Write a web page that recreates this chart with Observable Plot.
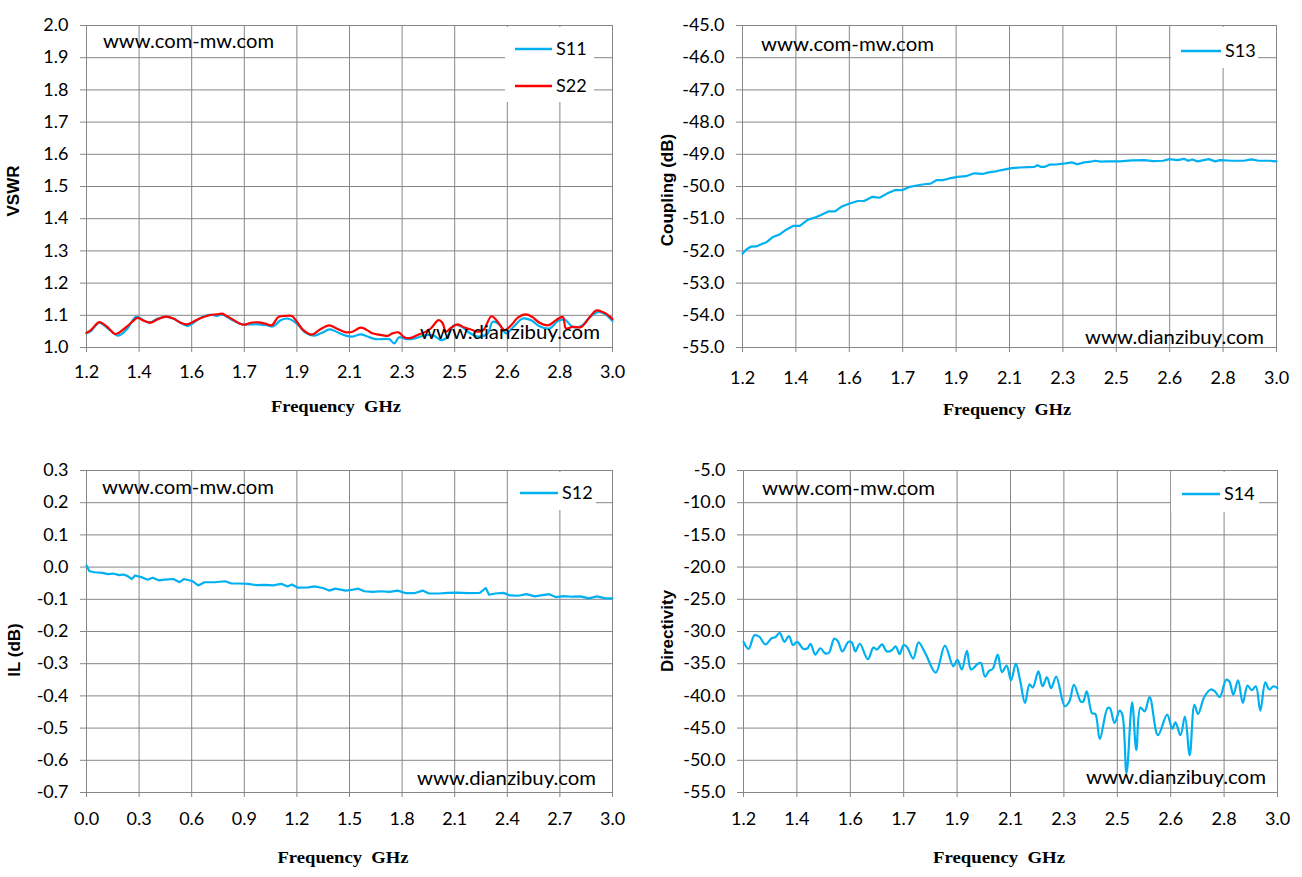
<!DOCTYPE html>
<html><head><meta charset="utf-8">
<script src="https://cdn.jsdelivr.net/npm/d3@7"></script>
<script src="https://cdn.jsdelivr.net/npm/@observablehq/plot@0.6"></script>
<style>
body{margin:0;background:#fff;}
#wrap{position:relative;width:1302px;height:877px;overflow:hidden;background:#fff;}
.panel{position:absolute;}
.panel svg{overflow:visible;max-width:none !important;}
</style></head><body><div id="wrap"></div>
<script>
// ---------- tick labels ----------
const freqTickLabels = ["1.2","1.4","1.6","1.7","1.9","2.1","2.3","2.5","2.6","2.8","3.0"];
const ilTickLabels = ["0.0","0.3","0.6","0.9","1.2","1.5","1.8","2.1","2.4","2.7","3.0"];
const vswrTicks = [1.0,1.1,1.2,1.3,1.4,1.5,1.6,1.7,1.8,1.9,2.0];
const couplingTicks = [-55,-54,-53,-52,-51,-50,-49,-48,-47,-46,-45];
const ilTicks = [-0.7,-0.6,-0.5,-0.4,-0.3,-0.2,-0.1,0.0,0.1,0.2,0.3];
const dirTicks = [-55,-50,-45,-40,-35,-30,-25,-20,-15,-10,-5];

// ---------- series [GHz, value] ----------
const s11 = [[1.200,1.044],[1.215,1.051],[1.243,1.077],[1.260,1.069],[1.277,1.056],[1.306,1.037],[1.317,1.040],[1.340,1.059],[1.368,1.095],[1.380,1.093],[1.402,1.081],[1.419,1.078],[1.444,1.090],[1.476,1.095],[1.497,1.090],[1.522,1.077],[1.547,1.067],[1.573,1.081],[1.601,1.097],[1.630,1.101],[1.647,1.098],[1.664,1.103],[1.681,1.095],[1.704,1.083],[1.732,1.072],[1.761,1.072],[1.789,1.072],[1.817,1.069],[1.840,1.066],[1.863,1.084],[1.886,1.090],[1.903,1.085],[1.925,1.069],[1.948,1.047],[1.977,1.037],[2.002,1.044],[2.033,1.056],[2.062,1.046],[2.090,1.036],[2.110,1.034],[2.138,1.041],[2.161,1.034],[2.190,1.026],[2.213,1.026],[2.236,1.026],[2.253,1.013],[2.270,1.032],[2.293,1.026],[2.316,1.027],[2.344,1.034],[2.367,1.039],[2.390,1.036],[2.413,1.023],[2.430,1.028],[2.458,1.069],[2.481,1.066],[2.510,1.046],[2.539,1.034],[2.573,1.044],[2.590,1.080],[2.613,1.072],[2.636,1.044],[2.659,1.062],[2.693,1.090],[2.721,1.085],[2.750,1.066],[2.784,1.059],[2.813,1.082],[2.836,1.087],[2.864,1.064],[2.893,1.067],[2.921,1.093],[2.950,1.110],[2.973,1.105],[3.000,1.082]];
const s22 = [[1.200,1.046],[1.215,1.054],[1.243,1.079],[1.260,1.072],[1.277,1.059],[1.297,1.042],[1.311,1.046],[1.334,1.062],[1.357,1.080],[1.374,1.092],[1.397,1.083],[1.419,1.077],[1.442,1.087],[1.471,1.096],[1.497,1.090],[1.522,1.077],[1.545,1.072],[1.567,1.081],[1.596,1.093],[1.624,1.101],[1.647,1.103],[1.664,1.105],[1.681,1.097],[1.704,1.085],[1.726,1.074],[1.743,1.071],[1.761,1.077],[1.789,1.078],[1.812,1.074],[1.834,1.069],[1.857,1.095],[1.880,1.098],[1.903,1.098],[1.920,1.080],[1.942,1.054],[1.971,1.040],[1.999,1.056],[2.031,1.069],[2.056,1.059],[2.085,1.048],[2.110,1.049],[2.138,1.062],[2.156,1.056],[2.178,1.044],[2.201,1.040],[2.230,1.036],[2.247,1.044],[2.268,1.047],[2.287,1.032],[2.306,1.029],[2.333,1.039],[2.356,1.047],[2.378,1.059],[2.405,1.085],[2.418,1.077],[2.430,1.049],[2.447,1.061],[2.470,1.072],[2.493,1.062],[2.516,1.056],[2.539,1.049],[2.558,1.054],[2.586,1.097],[2.607,1.080],[2.630,1.054],[2.653,1.069],[2.676,1.093],[2.704,1.103],[2.725,1.095],[2.750,1.077],[2.779,1.069],[2.807,1.085],[2.830,1.095],[2.841,1.059],[2.864,1.064],[2.893,1.064],[2.921,1.093],[2.944,1.115],[2.967,1.110],[2.990,1.097],[3.000,1.088]];
const s13 = [[1.200,-52.09],[1.214,-51.95],[1.228,-51.87],[1.246,-51.86],[1.267,-51.78],[1.281,-51.73],[1.302,-51.57],[1.323,-51.50],[1.344,-51.36],[1.372,-51.22],[1.393,-51.22],[1.421,-51.03],[1.449,-50.95],[1.470,-50.86],[1.491,-50.77],[1.512,-50.77],[1.533,-50.63],[1.561,-50.53],[1.589,-50.45],[1.610,-50.45],[1.638,-50.32],[1.662,-50.35],[1.687,-50.22],[1.715,-50.11],[1.740,-50.11],[1.764,-50.01],[1.792,-49.96],[1.813,-49.93],[1.834,-49.91],[1.855,-49.80],[1.876,-49.80],[1.897,-49.75],[1.925,-49.70],[1.953,-49.68],[1.981,-49.59],[2.009,-49.61],[2.030,-49.56],[2.058,-49.52],[2.086,-49.47],[2.107,-49.43],[2.135,-49.41],[2.163,-49.40],[2.184,-49.39],[2.194,-49.34],[2.205,-49.39],[2.219,-49.39],[2.236,-49.32],[2.261,-49.31],[2.289,-49.28],[2.310,-49.25],[2.328,-49.31],[2.352,-49.25],[2.373,-49.23],[2.390,-49.20],[2.408,-49.23],[2.429,-49.22],[2.471,-49.22],[2.513,-49.19],[2.555,-49.18],[2.583,-49.21],[2.618,-49.20],[2.639,-49.15],[2.667,-49.18],[2.688,-49.14],[2.702,-49.20],[2.716,-49.16],[2.734,-49.22],[2.772,-49.15],[2.793,-49.22],[2.810,-49.18],[2.849,-49.20],[2.891,-49.20],[2.915,-49.16],[2.940,-49.20],[2.975,-49.20],[3.000,-49.22]];
const s12 = [[0.000,0.005],[0.017,-0.013],[0.045,-0.016],[0.092,-0.018],[0.121,-0.022],[0.152,-0.020],[0.187,-0.025],[0.211,-0.023],[0.235,-0.028],[0.258,-0.037],[0.277,-0.026],[0.318,-0.032],[0.348,-0.039],[0.377,-0.033],[0.412,-0.041],[0.448,-0.039],[0.495,-0.037],[0.531,-0.047],[0.555,-0.037],[0.602,-0.043],[0.637,-0.057],[0.673,-0.047],[0.732,-0.047],[0.791,-0.044],[0.827,-0.051],[0.874,-0.051],[0.922,-0.052],[0.969,-0.056],[1.017,-0.055],[1.064,-0.057],[1.111,-0.052],[1.147,-0.060],[1.171,-0.054],[1.206,-0.064],[1.265,-0.063],[1.301,-0.060],[1.348,-0.065],[1.384,-0.073],[1.419,-0.067],[1.479,-0.073],[1.510,-0.071],[1.550,-0.067],[1.585,-0.075],[1.633,-0.077],[1.680,-0.075],[1.728,-0.077],[1.775,-0.073],[1.822,-0.081],[1.870,-0.081],[1.917,-0.073],[1.953,-0.082],[2.012,-0.082],[2.059,-0.080],[2.107,-0.079],[2.178,-0.081],[2.244,-0.080],[2.277,-0.065],[2.296,-0.086],[2.332,-0.082],[2.379,-0.080],[2.415,-0.088],[2.462,-0.089],[2.510,-0.084],[2.557,-0.091],[2.592,-0.088],[2.640,-0.084],[2.675,-0.093],[2.723,-0.090],[2.770,-0.092],[2.818,-0.091],[2.865,-0.097],[2.912,-0.091],[2.960,-0.097],[3.000,-0.097]];
const s14 = [[1.200,-31.6],[1.217,-32.7],[1.237,-30.6],[1.253,-30.8],[1.274,-32.0],[1.296,-31.0],[1.307,-30.9],[1.322,-30.2],[1.338,-31.6],[1.353,-30.7],[1.367,-32.1],[1.381,-31.6],[1.402,-32.7],[1.416,-32.6],[1.426,-31.9],[1.442,-33.6],[1.459,-32.6],[1.475,-33.4],[1.488,-33.3],[1.506,-31.1],[1.518,-31.5],[1.533,-33.1],[1.554,-31.6],[1.565,-31.7],[1.577,-33.1],[1.592,-31.9],[1.619,-34.3],[1.638,-32.5],[1.650,-32.8],[1.667,-32.0],[1.683,-33.1],[1.700,-32.9],[1.713,-32.3],[1.726,-33.5],[1.740,-32.1],[1.751,-32.4],[1.772,-34.2],[1.790,-31.7],[1.813,-33.4],[1.848,-36.4],[1.879,-32.2],[1.907,-35.4],[1.921,-34.4],[1.936,-35.9],[1.953,-33.0],[1.967,-35.9],[1.990,-35.0],[2.000,-34.9],[2.014,-37.0],[2.028,-36.1],[2.040,-35.8],[2.057,-33.6],[2.071,-36.3],[2.087,-35.3],[2.102,-37.6],[2.118,-35.0],[2.132,-37.5],[2.149,-41.1],[2.164,-38.2],[2.175,-38.7],[2.194,-36.2],[2.208,-38.5],[2.223,-37.1],[2.237,-38.8],[2.254,-37.0],[2.283,-41.6],[2.298,-40.9],[2.314,-38.3],[2.337,-40.9],[2.345,-40.9],[2.357,-39.3],[2.375,-42.7],[2.386,-42.8],[2.401,-46.7],[2.427,-41.9],[2.435,-41.9],[2.451,-44.2],[2.468,-42.3],[2.477,-42.9],[2.491,-52.0],[2.510,-41.0],[2.524,-48.4],[2.538,-41.8],[2.552,-42.4],[2.569,-40.2],[2.597,-46.1],[2.628,-42.9],[2.645,-45.1],[2.656,-44.1],[2.673,-46.1],[2.688,-43.2],[2.704,-49.2],[2.720,-41.4],[2.732,-42.8],[2.754,-40.1],[2.775,-39.0],[2.789,-39.3],[2.805,-40.2],[2.827,-37.5],[2.838,-37.8],[2.851,-39.8],[2.867,-37.6],[2.883,-41.1],[2.899,-38.4],[2.913,-39.1],[2.927,-38.5],[2.942,-42.3],[2.959,-37.9],[2.972,-39.0],[2.987,-38.5],[3.000,-38.8]];

const BLUE = "#00B0F0", RED = "#FF0000", GRID = "#868686";
const freqTicks = freqTickLabels.map((_, i) => +(1.2 + i * 0.18).toFixed(2));
const ilFreqTicks = ilTickLabels.map(Number);
const toRows = arr => arr.map(([f, v]) => ({f, v}));
const fmt1 = d => (Math.abs(d) < 1e-9 ? 0 : d).toFixed(1);

function makePanel(cfg) {
  const xLab = d => cfg.xLabels[cfg.xTicks.findIndex(t => Math.abs(t - d) < 1e-6)];
  const svg = Plot.plot({
    width: cfg.width, height: cfg.height,
    marginLeft: cfg.mL, marginRight: cfg.mR, marginTop: cfg.mT, marginBottom: cfg.mB,
    style: {fontFamily: "Lato, 'Open Sans', sans-serif", fontSize: "18px", color: "#000", background: "white", overflow: "visible"},
    x: {domain: cfg.xDomain},
    y: {domain: cfg.yDomain},
    marks: [
      Plot.gridX(cfg.xTicks, {stroke: GRID, strokeOpacity: 1, strokeWidth: 1}),
      Plot.gridY(cfg.yTicks, {stroke: GRID, strokeOpacity: 1, strokeWidth: 1}),
      Plot.axisX(cfg.xTicks, {tickSize: 5, tickPadding: cfg.xPad, stroke: GRID, fill: "#000", tickFormat: xLab, label: null}),
      Plot.axisY(cfg.yTicks, {tickSize: 6, tickPadding: 12, stroke: GRID, fill: "#000", tickFormat: fmt1, label: null}),
      ...cfg.series.map(s => Plot.line(toRows(s.data), {x: "f", y: "v", stroke: s.color, strokeWidth: 2.2, curve: s.curve}))
    ]
  });
  const g = d3.select(svg).append("g").attr("text-anchor", "start");
  // legend box
  const L = cfg.legend;
  g.append("rect").attr("x", L.x).attr("y", L.y).attr("width", L.w).attr("height", L.h).attr("fill", "white");
  L.items.forEach(it => {
    g.append("line").attr("x1", it.x1).attr("x2", it.x2).attr("y1", it.y).attr("y2", it.y)
      .attr("stroke", it.color).attr("stroke-width", 2.5);
    g.append("text").attr("x", it.tx).attr("y", it.y).attr("dy", "0.35em").attr("text-anchor", "start")
      .style("font", "18px Lato, sans-serif").attr("fill", "#000").text(it.label);
  });
  // watermarks
  cfg.marks.forEach(m => {
    g.append("text").attr("x", m.x).attr("y", m.y).attr("text-anchor", "start")
      .attr("textLength", m.len).attr("lengthAdjust", "spacingAndGlyphs")
      .style("font", "20px Lato, sans-serif").attr("fill", "#000").text(m.text);
  });
  // y title
  g.append("text").attr("transform", `translate(${cfg.yTitle.x},${cfg.yTitle.y}) rotate(-90)`)
    .attr("text-anchor", "middle").attr("dy", "0.35em")
    .style("font", "bold 17px 'Liberation Sans', Arial, sans-serif").attr("fill", "#000").text(cfg.yTitle.text);
  // x title
  g.append("text").attr("x", cfg.xTitle.x - cfg.xTitle.len / 2).attr("y", cfg.xTitle.y).attr("text-anchor", "start")
    .attr("textLength", cfg.xTitle.len).attr("lengthAdjust", "spacingAndGlyphs")
    .style("font", "bold 17px 'Liberation Serif', 'DejaVu Serif', serif").style("white-space", "pre")
    .attr("fill", "#000").text("Frequency  GHz");
  const div = document.createElement("div");
  div.className = "panel";
  div.style.left = cfg.left + "px"; div.style.top = cfg.top + "px";
  div.style.width = cfg.width + "px"; div.style.height = cfg.height + "px";
  div.appendChild(svg);
  document.getElementById("wrap").appendChild(div);
}

// Top-left: VSWR
makePanel({
  left: 0, top: 0, width: 651, height: 430, mL: 86, mR: 39, mT: 25, mB: 83, xPad: 13,
  xDomain: [1.2, 3.0], xTicks: freqTicks, xLabels: freqTickLabels,
  yDomain: [1.0, 2.0], yTicks: vswrTicks,
  series: [{data: s11, color: BLUE, curve: "catmull-rom"}, {data: s22, color: RED, curve: "catmull-rom"}],
  legend: {x: 505, y: 27, w: 89, h: 75, items: [
    {label: "S11", color: BLUE, x1: 515, x2: 552, y: 49, tx: 556},
    {label: "S22", color: RED, x1: 515, x2: 552, y: 86, tx: 556}]},
  marks: [{text: "www.com-mw.com", x: 103, y: 48, len: 171}, {text: "www.dianzibuy.com", x: 420, y: 339, len: 180}],
  yTitle: {text: "VSWR", x: 13, y: 191},
  xTitle: {x: 336, y: 412, len: 130}
});

// Top-right: Coupling
makePanel({
  left: 651, top: 0, width: 651, height: 430, mL: 91, mR: 26, mT: 25, mB: 83, xPad: 19,
  xDomain: [1.2, 3.0], xTicks: freqTicks, xLabels: freqTickLabels,
  yDomain: [-55, -45], yTicks: couplingTicks,
  series: [{data: s13, color: BLUE, curve: "linear"}],
  legend: {x: 520, y: 27, w: 87, h: 41, items: [
    {label: "S13", color: BLUE, x1: 530, x2: 570, y: 51, tx: 574}]},
  marks: [{text: "www.com-mw.com", x: 110, y: 51, len: 173}, {text: "www.dianzibuy.com", x: 434, y: 344, len: 179}],
  yTitle: {text: "Coupling (dB)", x: 16, y: 190},
  xTitle: {x: 356, y: 415, len: 128}
});

// Bottom-left: IL
makePanel({
  left: 0, top: 440, width: 651, height: 437, mL: 86, mR: 39, mT: 30, mB: 85, xPad: 15,
  xDomain: [0, 3.0], xTicks: ilFreqTicks, xLabels: ilTickLabels,
  yDomain: [-0.7, 0.3], yTicks: ilTicks,
  series: [{data: s12, color: BLUE, curve: "linear"}],
  legend: {x: 508, y: 32, w: 88, h: 38, items: [
    {label: "S12", color: BLUE, x1: 520, x2: 558, y: 53, tx: 562}]},
  marks: [{text: "www.com-mw.com", x: 102, y: 54, len: 172}, {text: "www.dianzibuy.com", x: 417, y: 345, len: 179}],
  yTitle: {text: "IL (dB)", x: 14, y: 210},
  xTitle: {x: 343, y: 423, len: 131}
});

// Bottom-right: Directivity
makePanel({
  left: 651, top: 440, width: 651, height: 437, mL: 92, mR: 25, mT: 30, mB: 85, xPad: 15,
  xDomain: [1.2, 3.0], xTicks: freqTicks, xLabels: freqTickLabels,
  yDomain: [-55, -5], yTicks: dirTicks,
  series: [{data: s14, color: BLUE, curve: "catmull-rom"}],
  legend: {x: 520, y: 32, w: 88, h: 40, items: [
    {label: "S14", color: BLUE, x1: 531, x2: 569, y: 54, tx: 573}]},
  marks: [{text: "www.com-mw.com", x: 111, y: 55, len: 173}, {text: "www.dianzibuy.com", x: 435, y: 344, len: 180}],
  yTitle: {text: "Directivity", x: 16, y: 191},
  xTitle: {x: 348, y: 423, len: 132}
});
</script></body></html>
